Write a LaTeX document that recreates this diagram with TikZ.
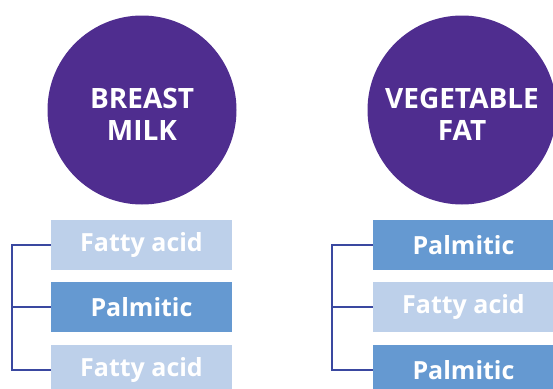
\documentclass[tikz,border=0pt]{standalone}
\usepackage{fontspec}
\setmainfont{Open Sans}
\definecolor{circ}{HTML}{4F2D8F}
\definecolor{darkbox}{HTML}{6599D1}
\definecolor{lightbox}{HTML}{BDD0EA}
\definecolor{brak}{HTML}{3A48A0}
\begin{document}
\begin{tikzpicture}[x=1pt,y=-1pt,
  bubble/.style={circle,fill=circ,minimum size=189pt,inner sep=0pt},
  bubbletext/.style={text=white,align=center,
    font=\fontsize{28}{32}\selectfont\bfseries},
  tag/.style={minimum width=181pt,minimum height=50pt,inner sep=0pt,text=white,
    font=\fontsize{25}{27}\selectfont\bfseries},
  pale/.style={tag,fill=lightbox},
  deep/.style={tag,fill=darkbox},
  brace/.style={draw=brak,line width=1.1pt}]
\useasboundingbox (0,0) rectangle (553,388);
\begin{scope}
\clip (0,0) rectangle (553,388);
% source circles
\node[bubble] (bm) at (142,110) {};
\node[bubbletext] (bmt) at (142,114) {BREAST\\MILK};
\node[bubble] (vf) at (462,110) {};
\node[bubbletext] (vft) at (462,114) {VEGETABLE\\FAT};
% breast milk composition
\node[pale] (l1) at (141.5,245) {Fatty acid};
\node[deep] (l2) at (141.5,307) {Palmitic};
\node[pale] (l3) at (141.5,370) {Fatty acid};
% vegetable fat composition
\node[deep] (r1) at (463.5,245) {Palmitic};
\node[pale] (r2) at (463.5,307) {Fatty acid};
\node[deep] (r3) at (463.5,370) {Palmitic};
\end{scope}
% brackets
\coordinate (lb) at (12,0);
\coordinate (rb) at (332,0);
\draw[brace] (l1.west) -| (lb |- l3.west) -- (l3.west);
\draw[brace] (l2.west) -- (lb |- l2.west);
\draw[brace] (r1.west) -| (rb |- r3.west) -- (r3.west);
\draw[brace] (r2.west) -- (rb |- r2.west);
\end{tikzpicture}
\end{document}
